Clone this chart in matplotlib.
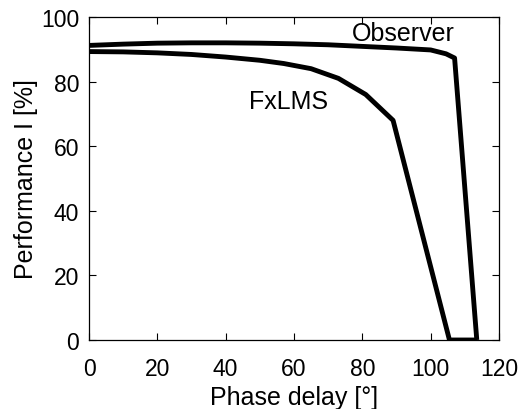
import matplotlib
matplotlib.use("Agg")
import matplotlib.pyplot as plt

plt.rcParams['font.family'] = ['Liberation Sans', 'DejaVu Sans']

fxlms_x = [0, 10, 20, 30, 40, 50, 57, 65, 73, 81, 89, 105.5, 113.5]
fxlms_y = [89.3, 89.2, 88.9, 88.4, 87.6, 86.6, 85.6, 84, 81, 76, 68, 0, 0]
obs_x = [0, 10, 20, 30, 40, 50, 60, 70, 80, 90, 100, 104.5, 107, 113.5]
obs_y = [91.2, 91.6, 91.9, 92.0, 92.0, 91.9, 91.7, 91.4, 90.9, 90.4, 89.8, 88.6, 87.3, 0]

xticks = [0, 20, 40, 60, 80, 100, 120]
yticks = [0, 20, 40, 60, 80, 100]

fig = plt.figure(figsize=(5.31, 4.10), dpi=100)
ax = fig.add_axes([89/531, 1-341/410, (499-89)/531, (341-18)/410])

ax.plot(obs_x, obs_y, color='black', lw=3.5, solid_joinstyle='round', solid_capstyle='butt')
ax.plot(fxlms_x, fxlms_y, color='black', lw=3.5, solid_joinstyle='round', solid_capstyle='butt')

ax.text(92, 95, 'Observer', fontsize=18, ha='center', va='center')
ax.text(58.5, 74, 'FxLMS', fontsize=18, ha='center', va='center')

ax.set_xlim(0, 120)
ax.set_ylim(0, 100)
ax.set_xticks(xticks)
ax.set_yticks(yticks)
ax.tick_params(direction='in', top=True, right=True, length=5, width=0.8,
               labelsize=16.5)
ax.tick_params(axis='x', pad=12)
ax.tick_params(axis='y', pad=7)
for s in ax.spines.values():
    s.set_linewidth(0.9)

ax.set_xlabel('Phase delay [°]', fontsize=18, labelpad=4)
ax.set_ylabel('Performance I [%]', fontsize=18, labelpad=2)

fig.savefig('out.png', dpi=100)
